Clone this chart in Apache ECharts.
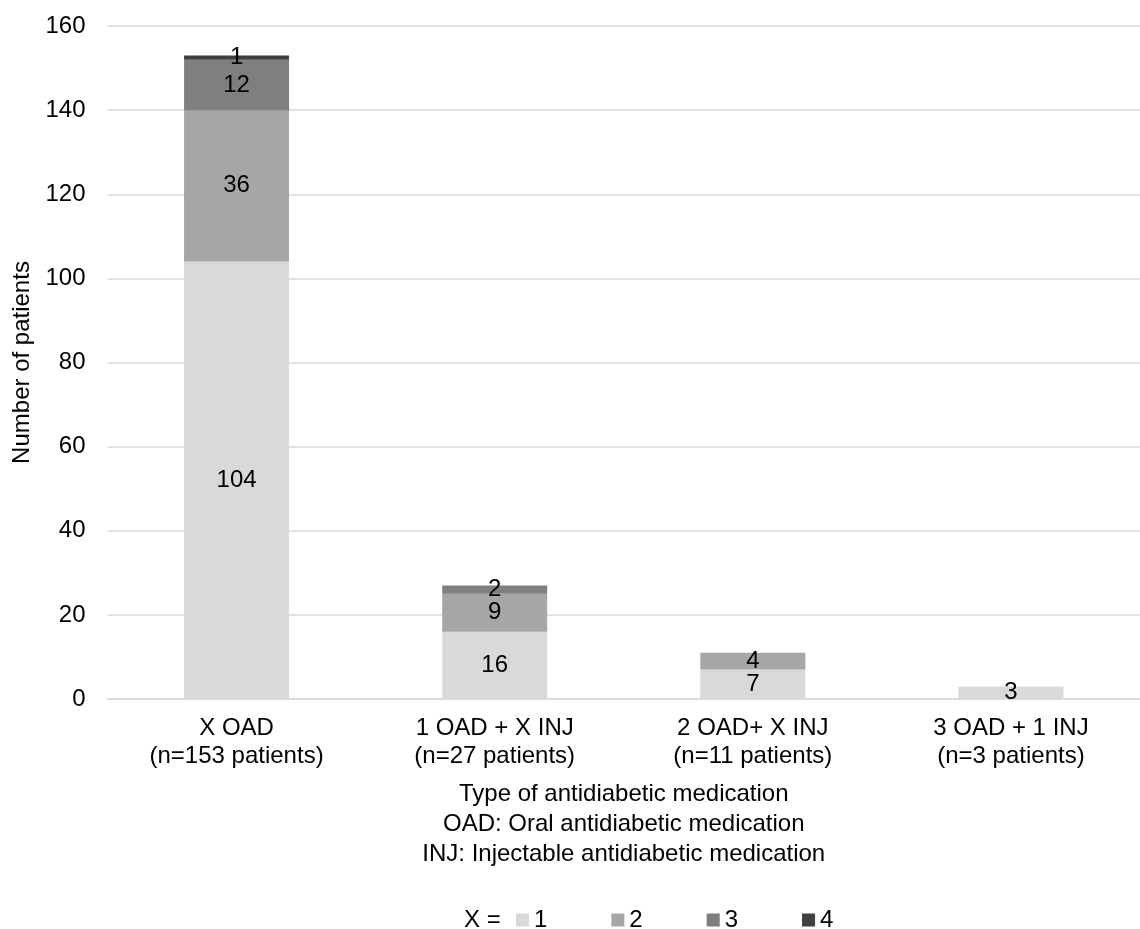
<!DOCTYPE html>
<html>
<head>
<meta charset="utf-8">
<script src="https://cdn.jsdelivr.net/npm/echarts@6/dist/echarts.min.js"></script>
<style>
html,body{margin:0;padding:0;background:#fff;}
#chart{width:1140px;height:929px;}
</style>
</head>
<body>
<div id="chart"></div>
<script>
const categories = ['X OAD\n(n=153 patients)', '1 OAD + X INJ\n(n=27 patients)', '2 OAD+ X INJ\n(n=11 patients)', '3 OAD + 1 INJ\n(n=3 patients)'];
const seriesNames = ['1', '2', '3', '4'];
const x1 = [104, 16, 7, 3];
const x2 = [36, 9, 4, 0];
const x3 = [12, 2, 0, 0];
const x4 = [1, 0, 0, 0];
const colors = ['#d9d9d9', '#a6a6a6', '#7f7f7f', '#3f3f3f'];
const yTicks = {min: 0, max: 160, interval: 20};

const FONT = '"Liberation Sans", Arial, sans-serif';
const values = [x1, x2, x3, x4];

const chart = echarts.init(document.getElementById('chart'));
chart.setOption({
  animation: false,
  textStyle: {fontFamily: FONT, color: '#000'},
  grid: {left: 107.5, right: -13, top: 26, bottom: 230, containLabel: false},
  xAxis: {
    type: 'category',
    data: categories,
    axisTick: {show: false},
    axisLine: {lineStyle: {color: '#d9d9d9', width: 1.5}},
    axisLabel: {fontSize: 24, color: '#000', fontFamily: FONT, lineHeight: 28, margin: 15, interval: 0},
    name: 'Type of antidiabetic medication\nOAD: Oral antidiabetic medication\nINJ: Injectable antidiabetic medication',
    nameLocation: 'middle',
    nameGap: 80,
    nameTextStyle: {fontSize: 24, color: '#000', fontFamily: FONT, lineHeight: 30}
  },
  yAxis: {
    type: 'value',
    min: yTicks.min, max: yTicks.max, interval: yTicks.interval,
    axisLabel: {fontSize: 24, color: '#000', fontFamily: FONT, margin: 22},
    splitLine: {lineStyle: {color: '#d9d9d9', width: 1.5}},
    axisLine: {show: false},
    axisTick: {show: false},
    name: 'Number of patients',
    nameLocation: 'middle',
    nameRotate: 90,
    nameGap: 70,
    nameTextStyle: {fontSize: 24, color: '#000', fontFamily: FONT}
  },
  legend: {
    data: seriesNames,
    left: 511,
    top: 903,
    padding: 5,
    itemWidth: 13,
    itemHeight: 13,
    itemGap: 64,
    icon: 'rect',
    textStyle: {fontSize: 24, color: '#000', fontFamily: FONT}
  },
  graphic: [{
    type: 'text',
    x: 464,
    y: 920,
    style: {text: 'X =', font: '24px ' + FONT, fill: '#000', verticalAlign: 'middle'}
  }],
  series: seriesNames.map((n, i) => ({
    name: n,
    type: 'bar',
    stack: 'total',
    barWidth: 105,
    data: values[i],
    itemStyle: {color: colors[i]},
    label: {
      show: true,
      position: 'inside',
      fontSize: 24,
      color: '#000',
      fontFamily: FONT,
      formatter: p => (p.value ? String(p.value) : '')
    }
  }))
});
</script>
</body>
</html>
